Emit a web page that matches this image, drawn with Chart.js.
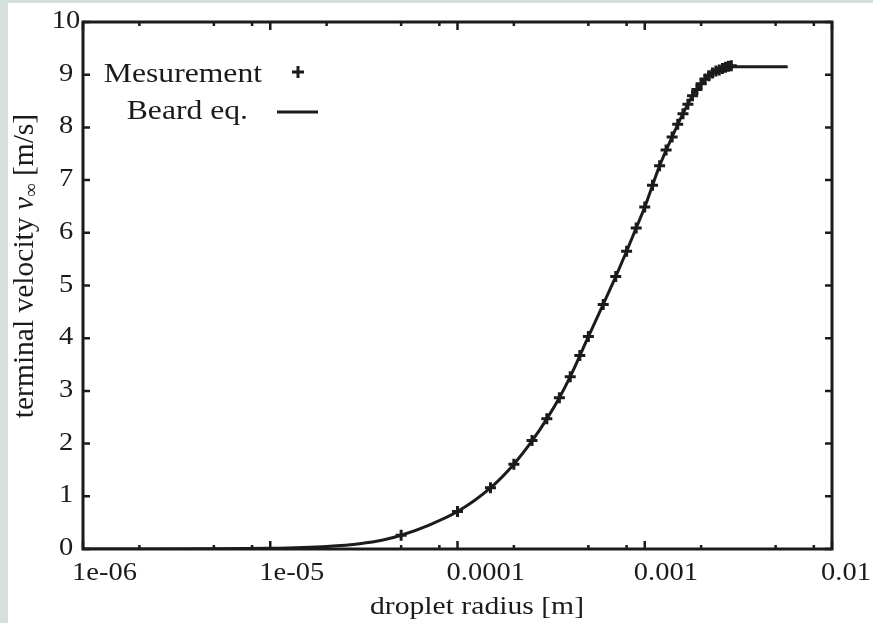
<!DOCTYPE html>
<html>
<head>
<meta charset="utf-8">
<script src="https://cdn.jsdelivr.net/npm/chart.js@4.4.0/dist/chart.umd.min.js"></script>
<style>
  html, body { margin: 0; padding: 0; background: #d5dfdb; width: 873px; height: 623px; overflow: hidden; }
  #wrap { position: absolute; left: 8px; top: 3px; width: 865px; height: 620px; background: #fff; }
</style>
</head>
<body>
<div id="wrap"><canvas id="chart" width="865" height="620"></canvas></div>
<script>
// measured terminal velocities (radius in m, velocity in m/s)
const measRadius = [5e-5, 1e-4, 1.5e-4, 2e-4, 2.5e-4, 3e-4, 3.5e-4, 4e-4, 4.5e-4, 5e-4,
    6e-4, 7e-4, 8e-4, 9e-4, 1e-3, 1.1e-3, 1.2e-3, 1.3e-3, 1.4e-3, 1.5e-3,
    1.6e-3, 1.7e-3, 1.8e-3, 1.9e-3, 2.0e-3, 2.1e-3, 2.2e-3, 2.3e-3, 2.4e-3, 2.5e-3,
    2.6e-3, 2.7e-3, 2.8e-3, 2.9e-3];
const measVelocity = [0.26, 0.71, 1.16, 1.61, 2.06, 2.47, 2.87, 3.27, 3.67, 4.03,
    4.64, 5.17, 5.65, 6.09, 6.49, 6.90, 7.27, 7.57, 7.82, 8.06,
    8.26, 8.44, 8.60, 8.72, 8.83, 8.92, 8.98, 9.03, 9.07, 9.09,
    9.12, 9.14, 9.16, 9.17];

// Beard equation curve
const beardRadius = [1e-6, 2e-6, 5e-6, 1e-5, 1.5e-5, 2e-5, 3e-5, 4e-5, 5e-5, 7e-5,
    1e-4, 1.5e-4, 2e-4, 2.5e-4, 3e-4, 3.5e-4, 4e-4, 5e-4, 6e-4, 7e-4,
    8e-4, 9e-4, 1e-3, 1.2e-3, 1.4e-3, 1.6e-3, 1.8e-3, 2.0e-3, 2.2e-3, 2.4e-3,
    2.6e-3, 2.9e-3, 5.8e-3];
const beardVelocity = [0.0001, 0.0005, 0.003, 0.012, 0.027, 0.047, 0.10, 0.17, 0.26, 0.45,
    0.71, 1.16, 1.61, 2.05, 2.47, 2.87, 3.27, 4.03, 4.64, 5.17,
    5.65, 6.09, 6.49, 7.27, 7.82, 8.26, 8.60, 8.83, 8.98, 9.07,
    9.12, 9.15, 9.15];

const xDecades = [1e-6, 1e-5, 1e-4, 1e-3, 1e-2];
const xDecadeLabels = ['1e-06', '1e-05', '0.0001', '0.001', '0.01'];
const xMinorFactors = [2, 5, 8];
const yTickValues = [0, 1, 2, 3, 4, 5, 6, 7, 8, 9, 10];
const yTickLabels = ['0', '1', '2', '3', '4', '5', '6', '7', '8', '9', '10'];
const seriesLabels = ['Mesurement', 'Beard eq.'];
const xTitle = 'droplet radius [m]';

const ink = '#1c1a1a';
const serif = '"Liberation Serif", "Times New Roman", serif';

function stretchedText(ctx, text, x, y, size, align, sx) {
    ctx.save();
    ctx.font = size + 'px ' + serif;
    ctx.translate(x, y);
    ctx.scale(sx, 1);
    ctx.textAlign = align;
    ctx.textBaseline = 'alphabetic';
    ctx.fillStyle = ink;
    ctx.fillText(text, 0, 0);
    ctx.restore();
}

// frame, inward ticks on all four sides, labels, titles and key
const gnuplotLook = {
    id: 'gnuplotLook',
    afterDraw(chart) {
        const ctx = chart.ctx;
        const a = chart.chartArea;
        const xs = chart.scales.x;
        const ys = chart.scales.y;
        ctx.save();
        ctx.strokeStyle = ink;
        ctx.lineWidth = 3;
        ctx.lineCap = 'butt';
        ctx.strokeRect(a.left, a.top, a.right - a.left, a.bottom - a.top);

        ctx.lineWidth = 2.5;
        ctx.beginPath();
        xDecades.forEach((d, i) => {
            const px = xs.getPixelForValue(d);
            ctx.moveTo(px, a.bottom); ctx.lineTo(px, a.bottom - 8);
            ctx.moveTo(px, a.top); ctx.lineTo(px, a.top + 8);
            if (i < xDecades.length - 1) {
                xMinorFactors.forEach(f => {
                    const mx = xs.getPixelForValue(d * f);
                    ctx.moveTo(mx, a.bottom); ctx.lineTo(mx, a.bottom - 4);
                    ctx.moveTo(mx, a.top); ctx.lineTo(mx, a.top + 4);
                });
            }
        });
        yTickValues.forEach(v => {
            const py = ys.getPixelForValue(v);
            ctx.moveTo(a.left, py); ctx.lineTo(a.left + 7, py);
            ctx.moveTo(a.right, py); ctx.lineTo(a.right - 7, py);
        });
        ctx.stroke();

        xDecades.forEach((d, i) => {
            stretchedText(ctx, xDecadeLabels[i], xs.getPixelForValue(d) - 11, 577, 25, 'left', 1.14);
        });
        yTickValues.forEach((v, i) => {
            stretchedText(ctx, yTickLabels[i], 58, ys.getPixelForValue(v) + 6, 25, 'center', 1.14);
        });

        stretchedText(ctx, xTitle, 469, 611, 26, 'center', 1.14);

        // y title, rotated, with italic v and subscript infinity
        ctx.save();
        ctx.translate(25, 263);
        ctx.rotate(-Math.PI / 2);
        ctx.fillStyle = ink;
        ctx.textBaseline = 'alphabetic';
        ctx.textAlign = 'left';
        const parts = [
            { t: 'terminal velocity ', f: '29.5px ' + serif, dy: 0 },
            { t: 'v', f: 'italic 29.5px ' + serif, dy: 0 },
            { t: '\u221e', f: '19px ' + serif, dy: 4 },
            { t: ' [m/s]', f: '29.5px ' + serif, dy: 0 }
        ];
        let total = 0;
        parts.forEach(p => { ctx.font = p.f; p.w = ctx.measureText(p.t).width; total += p.w; });
        let cx = -total / 2;
        parts.forEach(p => { ctx.font = p.f; ctx.fillText(p.t, cx, p.dy); cx += p.w; });
        ctx.restore();

        // key
        stretchedText(ctx, seriesLabels[0], 254, 79, 28, 'right', 1.13);
        stretchedText(ctx, seriesLabels[1], 240, 116, 28, 'right', 1.13);
        ctx.lineWidth = 3;
        ctx.beginPath();
        ctx.moveTo(284, 69); ctx.lineTo(296, 69);
        ctx.moveTo(290, 63); ctx.lineTo(290, 75);
        ctx.moveTo(269, 109); ctx.lineTo(310, 109);
        ctx.stroke();
        ctx.restore();
    }
};

const measPoints = measRadius.map((r, i) => ({ x: r, y: measVelocity[i] }));
const beardPoints = beardRadius.map((r, i) => ({ x: r, y: beardVelocity[i] }));

new Chart(document.getElementById('chart'), {
    type: 'scatter',
    data: {
        datasets: [{
            label: seriesLabels[0],
            data: measPoints,
            showLine: false,
            pointStyle: 'cross',
            pointRadius: 5.5,
            borderWidth: 3,
            borderColor: ink,
            backgroundColor: ink
        }, {
            label: seriesLabels[1],
            data: beardPoints,
            showLine: true,
            pointRadius: 0,
            borderWidth: 3,
            borderColor: ink,
            backgroundColor: ink,
            cubicInterpolationMode: 'monotone'
        }]
    },
    options: {
        responsive: false,
        animation: false,
        devicePixelRatio: 1,
        layout: { padding: { left: 0, top: 19, right: 41, bottom: 0 } },
        plugins: { legend: { display: false }, tooltip: { enabled: false } },
        scales: {
            x: {
                type: 'logarithmic',
                min: 1e-6,
                max: 1e-2,
                grid: { display: false, drawTicks: false },
                border: { display: false },
                ticks: { display: false },
                afterFit: s => { s.height = 74; s.paddingLeft = 0; s.paddingRight = 0; }
            },
            y: {
                min: 0,
                max: 10,
                grid: { display: false, drawTicks: false },
                border: { display: false },
                ticks: { display: false, stepSize: 1 },
                afterFit: s => { s.width = 75; s.paddingTop = 0; s.paddingBottom = 0; }
            }
        }
    },
    plugins: [gnuplotLook]
});
</script>
</body>
</html>
